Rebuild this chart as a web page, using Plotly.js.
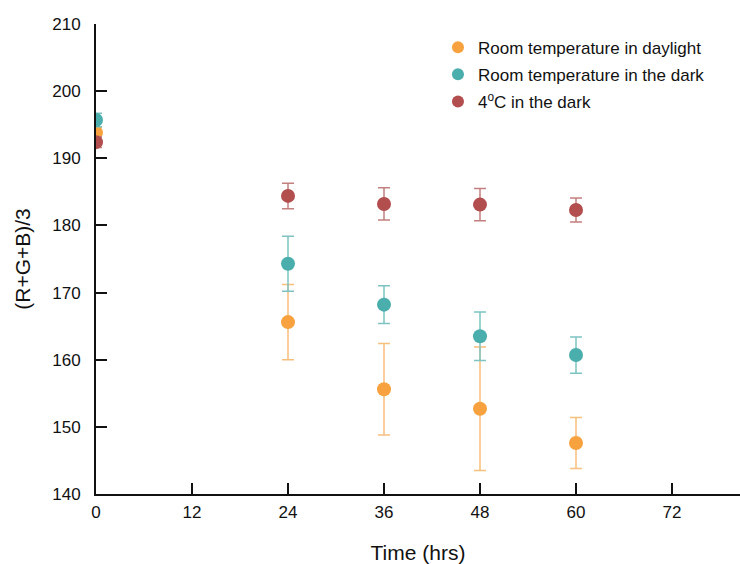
<!DOCTYPE html>
<html>
<head>
<meta charset="utf-8">
<script src="https://cdn.plot.ly/plotly-3.0.1.min.js"></script>
<style>html,body{margin:0;padding:0;background:#fff;}#chart{width:740px;height:564px;}</style>
</head>
<body>
<div id="chart"></div>
<script>
const times = [0, 24, 36, 48, 60];
const seriesNames = ["Room temperature in daylight", "Room temperature in the dark", "4<sup>o</sup>C in the dark"];
const daylight = [193.8, 165.6, 155.6, 152.7, 147.6];
const daylightErr = [0.8, 5.6, 6.8, 9.2, 3.8];
const dark = [195.7, 174.3, 168.2, 163.5, 160.7];
const darkErr = [1.0, 4.1, 2.8, 3.6, 2.7];
const cold = [192.4, 184.4, 183.2, 183.1, 182.3];
const coldErr = [0.8, 1.9, 2.4, 2.4, 1.8];
const xTicks = [0, 12, 24, 36, 48, 60, 72];
const yTicks = [140, 150, 160, 170, 180, 190, 200, 210];

const colors = ["#F7A23E", "#4AAEAC", "#B24E4E"];
const errColors = ["#F8BE7C", "#7CC3C1", "#C47F7F"];
const ys = [daylight, dark, cold];
const errs = [daylightErr, darkErr, coldErr];

const traces = ys.map((y, i) => ({
  x: times, y: y, type: "scatter", mode: "markers", name: seriesNames[i],
  legendgroup: "g" + i,
  marker: {color: colors[i], size: 14},
  error_y: {type: "data", array: errs[i], visible: true, color: errColors[i], thickness: 1.5, width: 6},
  cliponaxis: true
}));

const layout = {
  width: 740, height: 564,
  margin: {l: 96, r: 0, t: 24, b: 70},
  paper_bgcolor: "#fff", plot_bgcolor: "#fff",
  font: {family: "Liberation Sans, Arial, sans-serif", size: 17, color: "#111"},
  showlegend: true,
  legend: {x: 0.531, y: 0.988, xanchor: "left", yanchor: "top", bgcolor: "rgba(0,0,0,0)",
           font: {size: 17, color: "#111"}, itemsizing: "constant", tracegroupgap: 2},
  xaxis: {
    range: [0, 80.5], tickmode: "array", tickvals: xTicks, ticktext: xTicks.map(String),
    ticks: "inside", ticklen: 11, tickwidth: 2, tickcolor: "#111111",
    showline: true, linecolor: "#111", linewidth: 2, showgrid: false, zeroline: false,
    title: {text: "Time (hrs)", font: {size: 21}, standoff: 24},
    tickfont: {size: 17}, ticklabelstandoff: 2
  },
  yaxis: {
    range: [140, 210], tickmode: "array", tickvals: yTicks, ticktext: yTicks.map(String),
    ticks: "inside", ticklen: 11, tickwidth: 2, tickcolor: "#111111",
    showline: true, linecolor: "#111", linewidth: 2, showgrid: false, zeroline: false,
    title: {text: "(R+G+B)/3", font: {size: 21}, standoff: 16},
    tickfont: {size: 17}, ticklabelstandoff: 10
  }
};

Plotly.newPlot("chart", traces, layout, {displayModeBar: false, staticPlot: true});
</script>
</body>
</html>
